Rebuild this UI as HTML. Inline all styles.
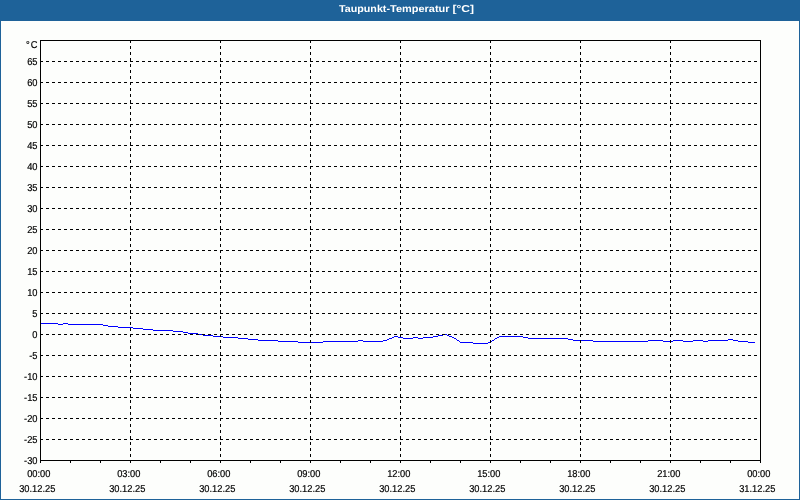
<!DOCTYPE html>
<html lang="de"><head><meta charset="utf-8"><title>Taupunkt-Temperatur [°C]</title>
<style>
html,body{margin:0;padding:0;background:#1e6299;}
body{width:800px;height:500px;overflow:hidden;position:relative;}
svg{position:absolute;left:0;top:0;display:block;}
text{font-family:"Liberation Sans",Arial,sans-serif;}
.t{font-size:10px;font-weight:bold;fill:#fff;text-rendering:geometricPrecision;}
.l{font-size:10px;fill:#000;stroke:#000;stroke-width:0.2px;text-rendering:geometricPrecision;}
</style></head><body>
<svg width="800" height="500" viewBox="0 0 800 500">
<rect x="0" y="0" width="800" height="500" fill="#1e6299"/>
<rect x="1" y="21" width="798" height="478" fill="#fdfefc"/>
<g shape-rendering="crispEdges" fill="none" stroke="#000" stroke-width="1">
<path d="M41 323h17v1h-17zM58 324h5v1h-5zM63 323h5v1h-5zM68 324h35v1h-35zM103 325h5v1h-5zM108 326h10v1h-10zM118 327h15v1h-15zM133 328h10v1h-10zM143 329h10v1h-10zM153 330h20v1h-20zM173 331h10v1h-10zM183 332h5v1h-5zM188 333h10v1h-10zM198 334h5v1h-5zM203 335h10v1h-10zM213 336h10v1h-10zM223 337h15v1h-15zM238 338h10v1h-10zM248 339h10v1h-10zM258 340h20v1h-20zM278 341h20v1h-20zM298 342h25v1h-25zM323 341h35v1h-35zM358 340h5v1h-5zM363 341h20v1h-20zM383 340h4v1h-4zM387 339h2v1h-2zM389 338h3v1h-3zM392 337h2v1h-2zM394 336h4v1h-4zM398 337h5v1h-5zM403 338h10v1h-10zM413 337h5v1h-5zM418 338h5v1h-5zM423 337h10v1h-10zM433 336h5v1h-5zM438 335h5v1h-5zM443 334h4v1h-4zM447 335h2v1h-2zM449 336h3v1h-3zM452 337h2v1h-2zM454 338h2v1h-2zM456 339h1v1h-1zM457 340h2v1h-2zM459 341h1v1h-1zM460 342h13v1h-13zM473 343h15v1h-15zM488 342h3v1h-3zM491 341h1v1h-1zM492 340h2v1h-2zM494 339h1v1h-1zM495 338h2v1h-2zM497 337h2v1h-2zM499 336h24v1h-24zM523 337h5v1h-5zM528 338h40v1h-40zM568 339h5v1h-5zM573 340h20v1h-20zM593 341h55v1h-55zM648 340h15v1h-15zM663 341h10v1h-10zM673 340h10v1h-10zM683 341h10v1h-10zM693 340h10v1h-10zM703 341h5v1h-5zM708 340h20v1h-20zM728 339h5v1h-5zM733 340h5v1h-5zM738 341h10v1h-10zM748 342h7v1h-7z" fill="#0000ff" stroke="none"/>
<g stroke-dasharray="3 3">
<line x1="40" y1="439.5" x2="760" y2="439.5"/>
<line x1="40" y1="418.5" x2="760" y2="418.5"/>
<line x1="40" y1="397.5" x2="760" y2="397.5"/>
<line x1="40" y1="376.5" x2="760" y2="376.5"/>
<line x1="40" y1="355.5" x2="760" y2="355.5"/>
<line x1="40" y1="334.5" x2="760" y2="334.5"/>
<line x1="40" y1="313.5" x2="760" y2="313.5"/>
<line x1="40" y1="292.5" x2="760" y2="292.5"/>
<line x1="40" y1="271.5" x2="760" y2="271.5"/>
<line x1="40" y1="250.5" x2="760" y2="250.5"/>
<line x1="40" y1="229.5" x2="760" y2="229.5"/>
<line x1="40" y1="208.5" x2="760" y2="208.5"/>
<line x1="40" y1="187.5" x2="760" y2="187.5"/>
<line x1="40" y1="166.5" x2="760" y2="166.5"/>
<line x1="40" y1="145.5" x2="760" y2="145.5"/>
<line x1="40" y1="124.5" x2="760" y2="124.5"/>
<line x1="40" y1="103.5" x2="760" y2="103.5"/>
<line x1="40" y1="82.5" x2="760" y2="82.5"/>
<line x1="40" y1="61.5" x2="760" y2="61.5"/>
<line x1="130.5" y1="40" x2="130.5" y2="460"/>
<line x1="220.5" y1="40" x2="220.5" y2="460"/>
<line x1="310.5" y1="40" x2="310.5" y2="460"/>
<line x1="400.5" y1="40" x2="400.5" y2="460"/>
<line x1="490.5" y1="40" x2="490.5" y2="460"/>
<line x1="580.5" y1="40" x2="580.5" y2="460"/>
<line x1="670.5" y1="40" x2="670.5" y2="460"/>
</g>
<rect x="40.5" y="40.5" width="720" height="420"/>
<line x1="40.5" y1="460" x2="40.5" y2="463"/>
<line x1="70.5" y1="460" x2="70.5" y2="463"/>
<line x1="100.5" y1="460" x2="100.5" y2="463"/>
<line x1="130.5" y1="460" x2="130.5" y2="463"/>
<line x1="160.5" y1="460" x2="160.5" y2="463"/>
<line x1="190.5" y1="460" x2="190.5" y2="463"/>
<line x1="220.5" y1="460" x2="220.5" y2="463"/>
<line x1="250.5" y1="460" x2="250.5" y2="463"/>
<line x1="280.5" y1="460" x2="280.5" y2="463"/>
<line x1="310.5" y1="460" x2="310.5" y2="463"/>
<line x1="340.5" y1="460" x2="340.5" y2="463"/>
<line x1="370.5" y1="460" x2="370.5" y2="463"/>
<line x1="400.5" y1="460" x2="400.5" y2="463"/>
<line x1="430.5" y1="460" x2="430.5" y2="463"/>
<line x1="460.5" y1="460" x2="460.5" y2="463"/>
<line x1="490.5" y1="460" x2="490.5" y2="463"/>
<line x1="520.5" y1="460" x2="520.5" y2="463"/>
<line x1="550.5" y1="460" x2="550.5" y2="463"/>
<line x1="580.5" y1="460" x2="580.5" y2="463"/>
<line x1="610.5" y1="460" x2="610.5" y2="463"/>
<line x1="640.5" y1="460" x2="640.5" y2="463"/>
<line x1="670.5" y1="460" x2="670.5" y2="463"/>
<line x1="700.5" y1="460" x2="700.5" y2="463"/>
<line x1="730.5" y1="460" x2="730.5" y2="463"/>
<line x1="760.5" y1="460" x2="760.5" y2="463"/>
</g>
<text class="t" y="12" x="339" textLength="51" lengthAdjust="spacingAndGlyphs">Taupunkt-</text><text class="t" y="12" x="390" textLength="59.5" lengthAdjust="spacingAndGlyphs">Temperatur</text><text class="t" y="12" x="452.5" textLength="21.5" lengthAdjust="spacingAndGlyphs">[°C]</text>
<g class="l" text-anchor="end" transform="scale(0.93,1)">
<text x="41.51" y="48" style="letter-spacing:1.1px">°C</text>
<text x="40.32" y="464">-30</text>
<text x="40.32" y="443">-25</text>
<text x="40.32" y="422">-20</text>
<text x="40.32" y="401">-15</text>
<text x="40.32" y="380">-10</text>
<text x="40.32" y="359">-5</text>
<text x="40.32" y="338">0</text>
<text x="40.32" y="317">5</text>
<text x="40.32" y="296">10</text>
<text x="40.32" y="275">15</text>
<text x="40.32" y="254">20</text>
<text x="40.32" y="233">25</text>
<text x="40.32" y="212">30</text>
<text x="40.32" y="191">35</text>
<text x="40.32" y="170">40</text>
<text x="40.32" y="149">45</text>
<text x="40.32" y="128">50</text>
<text x="40.32" y="107">55</text>
<text x="40.32" y="86">60</text>
<text x="40.32" y="65">65</text>
</g>
<g class="l" text-anchor="middle" transform="scale(0.93,1)">
<text x="41.72" y="477">00:00</text>
<text x="40.11" y="492">30.12.25</text>
<text x="138.49" y="477">03:00</text>
<text x="136.88" y="492">30.12.25</text>
<text x="235.27" y="477">06:00</text>
<text x="233.66" y="492">30.12.25</text>
<text x="332.04" y="477">09:00</text>
<text x="330.43" y="492">30.12.25</text>
<text x="428.82" y="477">12:00</text>
<text x="427.20" y="492">30.12.25</text>
<text x="525.59" y="477">15:00</text>
<text x="523.98" y="492">30.12.25</text>
<text x="622.37" y="477">18:00</text>
<text x="620.75" y="492">30.12.25</text>
<text x="719.14" y="477">21:00</text>
<text x="717.53" y="492">30.12.25</text>
<text x="815.91" y="477">00:00</text>
<text x="814.30" y="492">31.12.25</text>
</g>
</svg></body></html>
